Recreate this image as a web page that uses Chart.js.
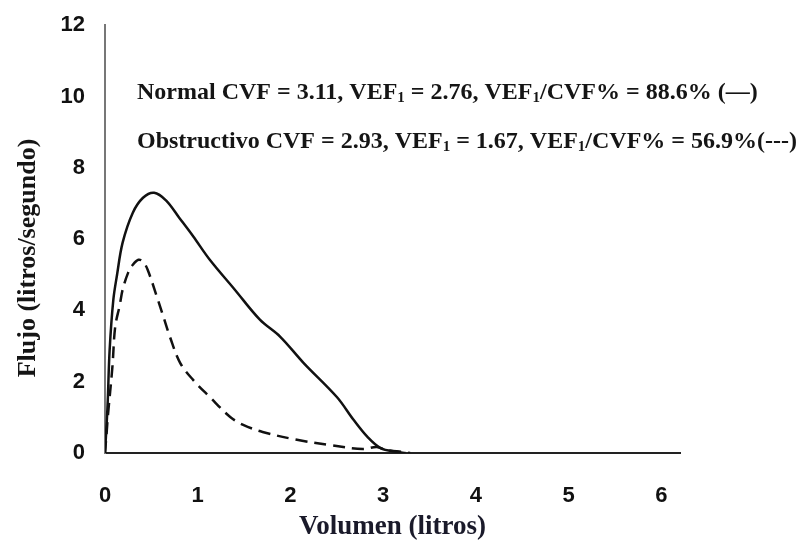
<!DOCTYPE html>
<html>
<head>
<meta charset="utf-8">
<script src="https://cdn.jsdelivr.net/npm/chart.js@4.4.1/dist/chart.umd.min.js"></script>
<style>
  html, body { margin: 0; padding: 0; background: #fff; }
  #wrap { width: 802px; height: 543px; }
</style>
</head>
<body>
<div id="wrap"><canvas id="grafico"></canvas></div>
<script>
/* ============================================================
DADOS — curva flujo/volumen
============================================================ */

const volumenNormal = [0, 0.02, 0.03, 0.05, 0.09, 0.13, 0.19, 0.3, 0.41, 0.53, 0.66, 0.8, 0.95, 1.13, 1.4, 1.67, 1.89, 2.14, 2.5, 2.68, 2.83, 2.97, 3.15, 3.24];
const flujoNormal = [0, 0.93, 1.49, 2.89, 4.3, 5.0, 5.9, 6.74, 7.16, 7.3, 7.08, 6.6, 6.08, 5.42, 4.58, 3.74, 3.26, 2.53, 1.57, 0.93, 0.45, 0.14, 0.03, 0];

const volumenObstructivo = [0, 0.02, 0.03, 0.08, 0.11, 0.16, 0.19, 0.25, 0.3, 0.36, 0.41, 0.46, 0.56, 0.63, 0.7, 0.81, 0.95, 1.13, 1.35, 1.49, 1.7, 2.07, 2.43, 2.78, 2.93, 3.04, 3.21, 3.29];
const flujoObstructivo = [0, 0.65, 1.01, 2.42, 3.54, 4.16, 4.58, 5.06, 5.28, 5.42, 5.37, 5.14, 4.38, 3.82, 3.26, 2.53, 2.05, 1.57, 1.01, 0.79, 0.59, 0.37, 0.22, 0.11, 0.17, 0.08, 0.03, 0];

const ticksVolumen = [0, 1, 2, 3, 4, 5, 6];
const ticksFlujo = [0, 2, 4, 6, 8, 10, 12];

const tituloX = "Volumen (litros)";
const tituloY = "Flujo (litros/segundo)";

// [texto, subindice?]
const textoNormal = [
  ["Normal CVF = 3.11, VEF", false], ["1", true],
  [" = 2.76, VEF", false], ["1", true],
  ["/CVF% = 88.6% (\u2014)", false],
];
const textoObstructivo = [
  ["Obstructivo CVF = 2.93, VEF", false], ["1", true],
  [" = 1.67, VEF", false], ["1", true],
  ["/CVF% = 56.9%(---)", false],
];

function pontos(xs, ys) {
  return xs.map((x, i) => ({ x: x, y: ys[i] }));
}

/* ============================================================
PLUGIN TEXTOS (anotações + título Y)
============================================================ */

const fonteSerif = '"Liberation Serif", "Times New Roman", serif';

function escreverLinha(ctx, partes, x, y) {
  let cx = x;
  partes.forEach(([t, sub]) => {
    ctx.font = sub ? "bold 15px " + fonteSerif : "bold 24px " + fonteSerif;
    ctx.fillText(t, cx, sub ? y + 5 : y);
    cx += ctx.measureText(t).width;
  });
}

const textosPlugin = {
  id: "textos",
  afterDraw(chart) {
    const { ctx } = chart;
    ctx.save();
    ctx.fillStyle = "#151515";
    ctx.textAlign = "left";
    ctx.textBaseline = "middle";

    escreverLinha(ctx, textoNormal, 137, 93);
    escreverLinha(ctx, textoObstructivo, 137, 142);

    /* título do eixo Y */
    ctx.translate(28, 258);
    ctx.rotate(-Math.PI / 2);
    ctx.textAlign = "center";
    ctx.font = "bold 26px " + fonteSerif;
    ctx.fillText(tituloY, 0, 0);

    ctx.restore();
  },
};

/* ============================================================
GRÁFICO
============================================================ */

const fonteTicks = { family: '"Liberation Sans", Arial, sans-serif', size: 22, weight: "bold" };

new Chart(document.getElementById("grafico"), {
  type: "scatter",
  data: {
    datasets: [
      {
        label: "Normal",
        data: pontos(volumenNormal, flujoNormal),
        showLine: true,
        borderColor: "#111",
        borderWidth: 2.5,
        pointRadius: 0,
        tension: 0.35,
      },
      {
        label: "Obstructivo",
        data: pontos(volumenObstructivo, flujoObstructivo),
        showLine: true,
        borderColor: "#111",
        borderWidth: 2.5,
        borderDash: [12, 7],
        pointRadius: 0,
        tension: 0.35,
      },
    ],
  },
  options: {
    responsive: true,
    maintainAspectRatio: false,
    animation: false,
    layout: { padding: { top: 22, right: 122, left: 0, bottom: 0 } },
    plugins: {
      legend: { display: false },
      tooltip: { enabled: false },
    },
    scales: {
      x: {
        type: "linear",
        min: 0,
        max: 6.2,
        grid: { display: false },
        border: { color: "#222", width: 2 },
        afterBuildTicks: (s) => { s.ticks = ticksVolumen.map((v) => ({ value: v })); },
        afterFit: (s) => { s.height = 90; },
        ticks: { color: "#111", font: fonteTicks, padding: 22 },
        title: {
          display: true,
          text: tituloX,
          color: "#1a1a2a",
          font: { family: fonteSerif, size: 27, weight: "bold" },
          padding: { top: 0, bottom: 0 },
        },
      },
      y: {
        min: 0,
        max: 12,
        grid: { display: false },
        border: { color: "#777", width: 2 },
        afterBuildTicks: (s) => { s.ticks = ticksFlujo.map((v) => ({ value: v })); },
        afterFit: (s) => { s.width = 105; },
        ticks: { color: "#111", font: fonteTicks, padding: 12 },
      },
    },
  },
  plugins: [textosPlugin],
});
</script>
</body>
</html>
